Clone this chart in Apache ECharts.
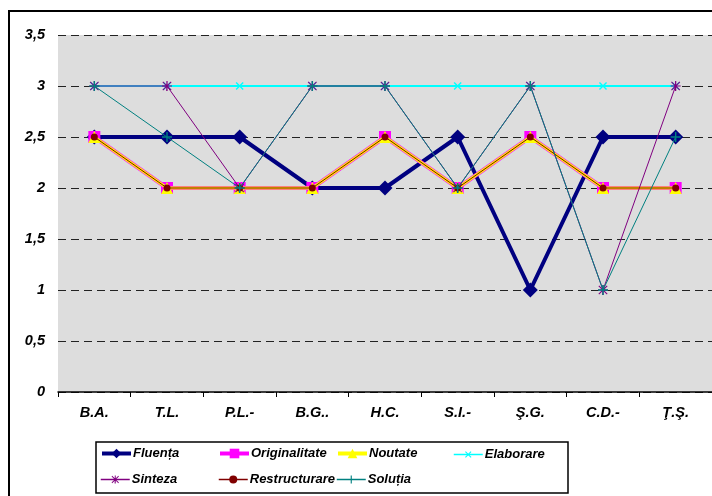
<!DOCTYPE html>
<html><head><meta charset="utf-8">
<script src="https://cdn.jsdelivr.net/npm/echarts@6/dist/echarts.min.js"></script>
<style>html,body{margin:0;padding:0;background:#fff}#c{width:712px;height:496px}</style>
</head><body><div id="c"></div>
<script>
const categories = ['B.A.', 'T.L.', 'P.L.-', 'B.G..', 'H.C.', 'S.I.-', 'Ş.G.', 'C.D.-', 'Ţ.Ş.'];
const fluenta = [2.5, 2.5, 2.5, 2, 2, 2.5, 1, 2.5, 2.5];
const originalitate = [2.5, 2, 2, 2, 2.5, 2, 2.5, 2, 2];
const noutate = [2.5, 2, 2, 2, 2.5, 2, 2.5, 2, 2];
const elaborare = [3, 3, 3, 3, 3, 3, 3, 3, 3];
const sinteza = [3, 3, 2, 3, 3, 2, 3, 1, 3];
const restructurare = [2.5, 2, 2, 2, 2.5, 2, 2.5, 2, 2];
const solutia = [3, 2.5, 2, 3, 3, 2, 3, 1, 2.5];
const seriesNames = ['Fluența', 'Originalitate', 'Noutate', 'Elaborare', 'Sinteza', 'Restructurare', 'Soluția'];

const FONT = 'Liberation Sans';
const PLUS = 'path://M4.3,0h1.4v10h-1.4zM0,4.3h10v1.4h-10z';
const STAR = 'path://M4.4,0h1.2v10h-1.4zM0,4.4h10v1.2h-10zM1.2,0.4l8.4,8.4l-0.8,0.8l-8.4,-8.4zM8.8,0.4l0.8,0.8l-8.4,8.4l-0.8,-0.8z';

const chart = echarts.init(document.getElementById('c'));
const textStyle = {fontFamily: FONT, fontWeight: 'bold', fontStyle: 'italic', fontSize: 13, color: '#000'};

function mk(name, data, color, width, symbol, size, extra) {
  return Object.assign({
    name, type: 'line', data, symbol, symbolSize: size,
    lineStyle: {color, width}, itemStyle: {color},
    animation: false
  }, extra || {});
}

const legendPos = [[100, 447], [218, 447], [336, 447], [453, 447], [100, 472], [218, 472], [336, 472]];
const legendLineW = [4, 4, 4, 1.5, 1.5, 1.5, 1.5];
const legendH = [12, 12, 12, 10, 10, 10, 10];

chart.setOption({
  animation: false,
  grid: {left: 58, top: 35, width: 655, height: 357},
  graphic: [
    {type: 'rect', shape: {x: 9, y: 11, width: 800, height: 600}, style: {fill: 'none', stroke: '#000', lineWidth: 2}, z: -1},
    {type: 'rect', shape: {x: 96, y: 442, width: 472, height: 51}, style: {fill: '#fff', stroke: '#000', lineWidth: 1.5}, z: 0}
  ],
  legend: seriesNames.map((n, i) => ({
    data: [n], left: legendPos[i][0], top: legendPos[i][1] + (12 - legendH[i]) / 2, itemWidth: 29, itemHeight: legendH[i], itemGap: 0,
    padding: 0, lineStyle: {width: legendLineW[i]},
    textStyle: Object.assign({}, textStyle, {padding: [0, 0, 0, -3]}), z: 10
  })),
  xAxis: {
    type: 'category', data: categories, boundaryGap: true,
    axisLine: {lineStyle: {color: '#000', width: 1.5}},
    axisTick: {show: true, length: 5, lineStyle: {color: '#000'}},
    axisLabel: Object.assign({}, textStyle, {fontSize: 14.5, margin: 13}),
    splitLine: {show: false}
  },
  yAxis: {
    type: 'value', min: 0, max: 3.5, interval: 0.5,
    axisLine: {show: false}, axisTick: {show: false},
    axisLabel: Object.assign({}, textStyle, {fontSize: 14.5, margin: 13, formatter: v => String(v).replace('.', ',')}),
    splitLine: {show: true, lineStyle: {color: '#222', type: [8, 5], width: 1}},
    splitArea: {show: true, areaStyle: {color: ['#DDDDDD', '#DDDDDD']}}
  },
  series: [
    mk('Fluența', fluenta, '#000080', 4, 'diamond', 15, {z: 2}),
    mk('Originalitate', originalitate, '#FF00FF', 4, 'rect', 12, {z: 3}),
    mk('Noutate', noutate, '#FFFF00', 3, 'triangle', 12, {z: 4}),
    mk('Elaborare', elaborare, '#00FFFF', 2, PLUS, 10, {z: 5, symbolRotate: 45}),
    mk('Sinteza', sinteza, '#800080', 1, STAR, 10, {z: 6}),
    mk('Restructurare', restructurare, '#800000', 1, 'circle', 7, {z: 7}),
    mk('Soluția', solutia, '#008080', 1, PLUS, 10, {z: 8})
  ]
});
</script></body></html>
